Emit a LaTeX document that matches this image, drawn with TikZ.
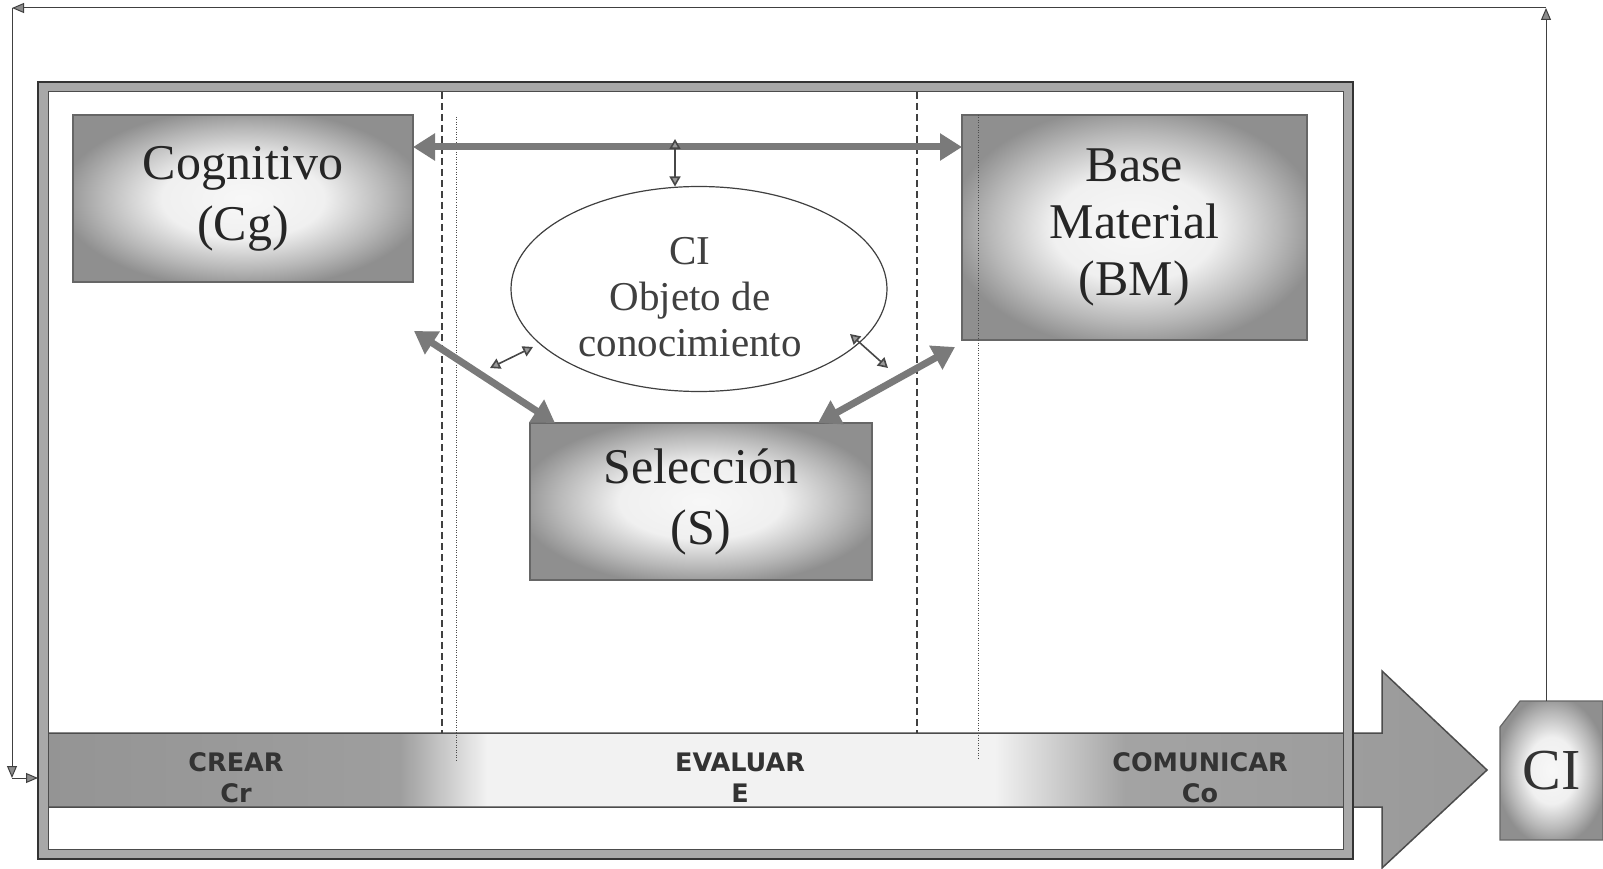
\documentclass[tikz,border=0pt]{standalone}
\usepackage{fontspec}
\setmainfont{Liberation Serif}
\newfontfamily\labelsans{DejaVu Sans}
\usetikzlibrary{arrows.meta,shapes.geometric,calc}

% grey boxes: pale centre fading to a grey rim
\pgfdeclareradialshading{boxglow}{\pgfpoint{0bp}{0bp}}{%
  color(0bp)=(black!3); color(12bp)=(black!6); color(21bp)=(black!28);
  color(27bp)=(black!44); color(50bp)=(black!44)}
% process band: grey at both ends, pale in the middle
\pgfdeclarehorizontalshading{bandshade}{100bp}{%
  color(0bp)=(black!42); color(25bp)=(black!42); color(37.5bp)=(black!38);
  color(40.5bp)=(black!5); color(58bp)=(black!5); color(62.5bp)=(black!36);
  color(75bp)=(black!40); color(100bp)=(black!40)}

\begin{document}
\begin{tikzpicture}[x=1pt,y=-1pt,
  every node/.style={inner sep=0pt,outer sep=0pt},
  grainbox/.style={rectangle,draw=black!60,line width=1.2pt,shade,shading=boxglow,
    align=center,font=\fontsize{50}{61}\selectfont,text=black!85},
  bigarrow/.style={line width=7pt,draw=black!52,
    {Triangle[length=22pt,width=26pt]}-{Triangle[length=22pt,width=26pt]}},
  smallarrow/.style={line width=1.6pt,draw=black!72,
    {Triangle[length=10pt,width=11pt,fill=black!40]}-{Triangle[length=10pt,width=11pt,fill=black!40]}},
  feedback/.style={line width=1pt,draw=black!75,
    -{Triangle[length=12pt,width=10pt,fill=black!45]}},
  lanedash/.style={dash pattern=on 7pt off 4pt,line width=1.3pt,draw=black!75},
  lanedot/.style={dash pattern=on 1pt off 1.5pt,line width=0.9pt,draw=black!70},
  stagelabel/.style={font=\labelsans\bfseries\fontsize{25.5}{31}\selectfont,
    text=black!80,align=center}]

\useasboundingbox (0,0) rectangle (1603,869);

% process band with its arrow head
\shadedraw[shading=bandshade,draw=black!70,line width=1.5pt]
  (38,733) -- (1382,733) -- (1382,671) -- (1487,770) -- (1382,868)
  -- (1382,807) -- (38,807) -- cycle;
\node[stagelabel] (crear) at (236,778) {CREAR\\Cr};
\node[stagelabel] (evaluar) at (740,778) {EVALUAR\\E};
\node[stagelabel] (comunicar) at (1200,778) {COMUNICAR\\Co};

% double frame
\draw[black!34,line width=10pt] (43,87) rectangle (1348,854);
\draw[black!80,line width=2pt] (38,82) rectangle (1353,859);
\draw[black!70,line width=1pt] (48,92) rectangle (1343,849);

% lane separators
\draw[lanedash] (442,92) -- (442,733);
\draw[lanedash] (917,92) -- (917,733);
\draw[lanedot] (456,117) -- (456,762);

% components
\node[grainbox,minimum width=340pt,minimum height=167pt] (cg) at (243,198.5) {Cognitivo\\(Cg)};
\node[grainbox,minimum width=345pt,minimum height=225pt,
  font=\fontsize{50}{57}\selectfont] (bm) at (1134.5,227.5) {Base\\Material\\(BM)};
\node[grainbox,minimum width=342pt,minimum height=157pt] (sel) at (701,501.5) {Selección\\(S)};
\node[ellipse,draw=black!75,line width=1.2pt,fill=white,minimum width=376pt,
  minimum height=205pt] (obj) at (699,289) {};
\node[align=center,font=\fontsize{41}{46}\selectfont,text=black!75]
  (objtext) at (690,297) {CI\\Objeto de\\conocimiento};

\draw[lanedot] (978,115) -- (978,760);

% relations
\coordinate (topy) at (0,147);
\coordinate (tap) at (675,139);
\coordinate (cgdiag) at (414,331);
\coordinate (bmdiag) at (955,347);
\coordinate (ls1) at (490,368);
\coordinate (ls2) at (533,347);
\coordinate (rs1) at (850,334);
\coordinate (rs2) at (888,368);
\draw[bigarrow] (cg.east |- topy) -- (bm.west |- topy);
\draw[smallarrow] (tap) -- (tap |- obj.north);
\draw[bigarrow] (cgdiag) -- ($(sel.north west)+(25,0)$);
\draw[bigarrow] (bmdiag) -- ($(sel.north east)+(-54,0)$);
\draw[smallarrow] (ls1) -- (ls2);
\draw[smallarrow] (rs1) -- (rs2);

% resulting CI
\shadedraw[shading=boxglow,draw=black!60,line width=1.2pt]
  (1500,727) -- (1520,701) -- (1603,701) -- (1603,840) -- (1500,840) -- cycle;
\node[minimum width=103pt,minimum height=139pt,font=\fontsize{58}{60}\selectfont,text=black!80]
  (ciout) at (1551.5,770.5) {CI};

% feedback loop back to the start of the process
\coordinate (tr) at (1546,8);
\coordinate (tl) at (12,8);
\coordinate (bl) at (12,778);
\coordinate (start) at (38,778);
\draw[feedback] (ciout.north -| tr) -- (tr);
\draw[feedback] (tr) -- (tl);
\draw[feedback] (tl) -- (bl);
\draw[feedback] (bl) -- (start);
\end{tikzpicture}
\end{document}
